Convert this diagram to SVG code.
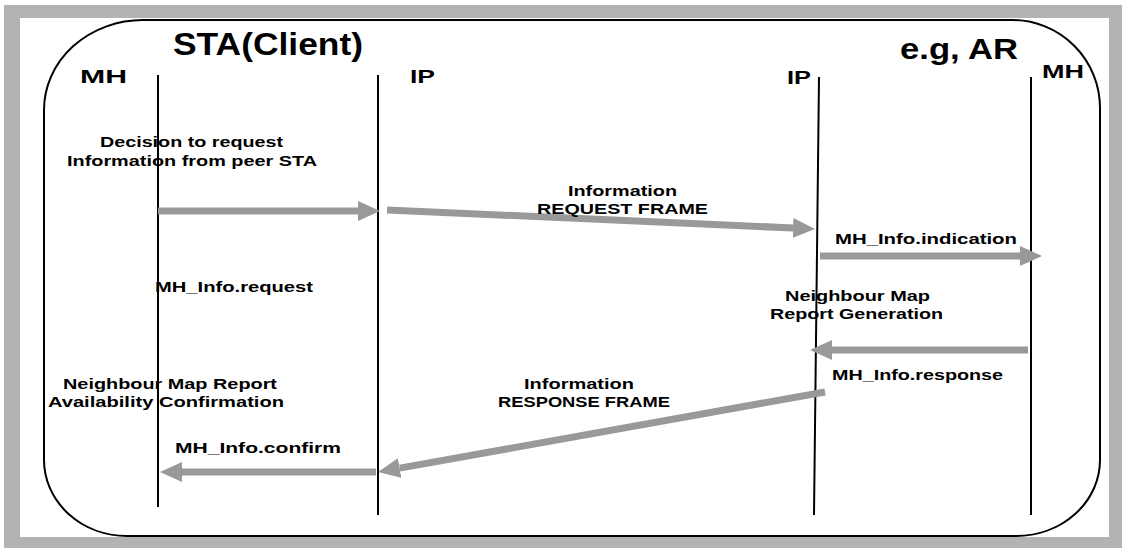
<svg xmlns="http://www.w3.org/2000/svg" width="1127" height="550" viewBox="0 0 1127 550">
<defs>
<style>
.t{font-family:"Liberation Sans",Arial,sans-serif;font-weight:bold;fill:#000;}
.s{font-size:15px;}
.h{font-size:18px;}
.life{stroke:#000;stroke-width:2;fill:none;}
.arr{stroke:#999;stroke-width:7;fill:none;marker-end:url(#ah);}
</style>
<marker id="ah" markerUnits="userSpaceOnUse" markerWidth="22" markerHeight="20" refX="0" refY="10" orient="auto" viewBox="0 0 22 20">
<path d="M0,0 L22,10 L0,20 Z" fill="#999"/>
</marker>
</defs>
<rect x="0" y="0" width="1127" height="550" fill="#fff"/>
<path d="M4,5 H1122 V548 H4 Z M20,18 V537 H1109 V18 Z" fill="#b3b3b3" fill-rule="evenodd"/>
<path d="M143,20 H1012 A88 88 0 0 1 1100,108 V460 A84 76 0 0 1 1016,536 H127 A83 76 0 0 1 44,460 V110 A99 90 0 0 1 143,20 Z" fill="none" stroke="#000" stroke-width="2"/>
<g id="title-sta"><text class="t" x="173" y="55" font-size="31" textLength="190" lengthAdjust="spacingAndGlyphs">STA(Client)</text></g>
<g id="title-ar"><text class="t" x="900" y="59" font-size="29" textLength="118" lengthAdjust="spacingAndGlyphs">e.g, AR</text></g>
<g id="mh-left"><text class="t h" x="80" y="83" textLength="47" lengthAdjust="spacingAndGlyphs">MH</text><line class="life" x1="158" y1="75" x2="158" y2="507"/></g>
<g id="ip-left"><text class="t h" x="410" y="83" textLength="25" lengthAdjust="spacingAndGlyphs">IP</text><line class="life" x1="378" y1="75" x2="378" y2="515"/></g>
<g id="ip-right"><text class="t h" x="787" y="84" textLength="24" lengthAdjust="spacingAndGlyphs">IP</text><line class="life" x1="819" y1="77" x2="814" y2="515"/></g>
<g id="mh-right"><text class="t h" x="1042" y="78" textLength="42" lengthAdjust="spacingAndGlyphs">MH</text><line class="life" x1="1031" y1="77" x2="1031" y2="515"/></g>
<g id="connectors">
<line class="arr" x1="158" y1="211" x2="358" y2="211"/>
<line class="arr" x1="387" y1="210" x2="793" y2="228"/>
<line class="arr" x1="820" y1="256" x2="1020" y2="256"/>
<line class="arr" x1="1028" y1="350" x2="832" y2="350"/>
<line class="arr" x1="825" y1="392" x2="399.7" y2="468.1"/>
<line class="arr" x1="376" y1="472" x2="182" y2="472"/>
</g>
<g id="labels">
<text class="t s" x="100" y="147" textLength="183" lengthAdjust="spacingAndGlyphs">Decision to request</text>
<text class="t s" x="67" y="166" textLength="250" lengthAdjust="spacingAndGlyphs">Information from peer STA</text>
<text class="t s" x="568" y="196" textLength="109" lengthAdjust="spacingAndGlyphs">Information</text>
<text class="t s" x="537" y="214" textLength="171" lengthAdjust="spacingAndGlyphs">REQUEST FRAME</text>
<text class="t s" x="835" y="244" textLength="182" lengthAdjust="spacingAndGlyphs">MH_Info.indication</text>
<text class="t s" x="155" y="292" textLength="158" lengthAdjust="spacingAndGlyphs">MH_Info.request</text>
<text class="t s" x="785" y="301" textLength="145" lengthAdjust="spacingAndGlyphs">Neighbour Map</text>
<text class="t s" x="770" y="319" textLength="173" lengthAdjust="spacingAndGlyphs">Report Generation</text>
<text class="t s" x="832" y="380" textLength="171" lengthAdjust="spacingAndGlyphs">MH_Info.response</text>
<text class="t s" x="63" y="389" textLength="214" lengthAdjust="spacingAndGlyphs">Neighbour Map Report</text>
<text class="t s" x="48" y="407" textLength="236" lengthAdjust="spacingAndGlyphs">Availability Confirmation</text>
<text class="t s" x="524" y="389" textLength="110" lengthAdjust="spacingAndGlyphs">Information</text>
<text class="t s" x="498" y="407" textLength="172" lengthAdjust="spacingAndGlyphs">RESPONSE FRAME</text>
<text class="t s" x="175" y="453" textLength="166" lengthAdjust="spacingAndGlyphs">MH_Info.confirm</text>
</g>
</svg>
